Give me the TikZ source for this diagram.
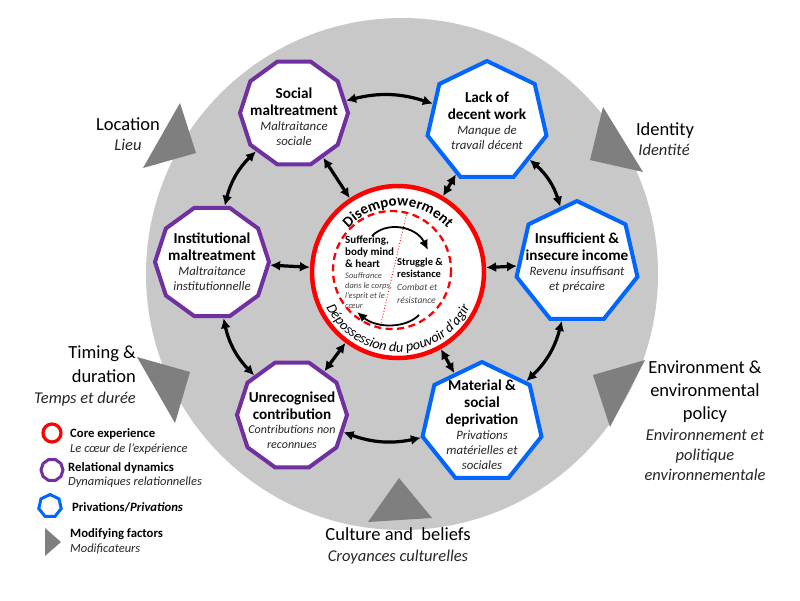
\documentclass[tikz,border=0pt]{standalone}
\usepackage{fontspec}
\setmainfont{Carlito}
\usetikzlibrary{shapes.geometric,arrows.meta,decorations.text,calc}
\definecolor{purp}{HTML}{7030A0}
\definecolor{blu}{HTML}{0066FF}
\definecolor{redc}{HTML}{FF0000}
\definecolor{bgc}{HTML}{C8C8C8}
\definecolor{trig}{HTML}{7F7F7F}
\definecolor{frtx}{HTML}{262626}
\definecolor{coretx}{HTML}{444444}
\newcommand{\nbf}{\bfseries\fontsize{15.2}{17}\selectfont}
\newcommand{\nit}{\mdseries\itshape\color{frtx}\fontsize{12.8}{15}\selectfont}
\begin{document}
\begin{tikzpicture}[x=1pt,y=-1pt,
  rel/.style={regular polygon, regular polygon sides=10, draw=purp, line width=4pt, fill=white, inner sep=0pt},
  priv/.style={regular polygon, regular polygon sides=7, draw=blu, line width=4pt, fill=white, inner sep=0pt},
  lab/.style={text width=125pt, align=center, inner sep=0pt},
  dbl/.style={line width=3.2pt, {Latex[length=10pt,width=10pt]}-{Latex[length=10pt,width=10pt]}},
  inarr/.style={line width=1.8pt, -{Latex[length=10pt,width=9pt]}},
  modtri/.style={fill=trig},
  cb/.style={anchor=base west, inner sep=0pt, font=\bfseries\fontsize{11}{12}\selectfont},
  ci/.style={anchor=base west, inner sep=0pt, text=coretx, font=\itshape\fontsize{8.5}{10}\selectfont},
  lo/.style={anchor=base, inner sep=0pt, font=\fontsize{18.5}{22}\selectfont},
  lf/.style={anchor=base, inner sep=0pt, text=frtx, font=\itshape\fontsize{16.5}{20}\selectfont},
  lgb/.style={anchor=base west, inner sep=0pt, font=\bfseries\fontsize{12.7}{14}\selectfont},
  lgi/.style={anchor=base west, inner sep=0pt, text=frtx, font=\itshape\fontsize{12.5}{14}\selectfont},
]
\useasboundingbox (0,0) rectangle (800,600);
\fill[white] (0,0) rectangle (800,600);

% big grey disc
\fill[bgc] (402,274) circle[radius=256];

% modifying factor triangles
\fill[modtri] (180,103) -- (196,153) -- (143,168) -- cycle;
\fill[modtri] (603,107) -- (643,172) -- (590,160) -- cycle;
\fill[modtri] (137,357) -- (190,372) -- (175,423) -- cycle;
\fill[modtri] (645,360) -- (593,375) -- (610,427) -- cycle;
\fill[modtri] (399,478) -- (432,518) -- (368,522) -- cycle;

% core
\node[circle, draw=redc, line width=4.5pt, fill=white, minimum size=172pt, inner sep=0pt] (core) at (398,272) {};
\coordinate (dc) at (392,270);
\draw[redc, line width=2.3pt, dash pattern=on 7pt off 4.5pt] (dc) circle[radius=59];
\coordinate (d1) at (407,212);
\coordinate (d2) at (380,328);
\draw[redc, line width=0.9pt, dotted] (d1) -- (d2);

\path[decorate, decoration={text along path, text align=center,
  text={|\bfseries\fontsize{15}{15}\selectfont|Disempowerment}}]
  ($(core.center)+(200:66)$) arc[start angle=200, end angle=340, radius=66];
\path[decorate, decoration={text along path, text align=center,
  text={|\itshape\fontsize{14.2}{14.2}\selectfont|Dépossession du pouvoir d’agir}}]
  ($(core.center)+(168:80)$) arc[start angle=168, end angle=12, radius=80];

% core inner texts
\node[cb] (s1) at (345,243) {Suffering,};
\node[cb] (s2) at (345,255) {body mind};
\node[cb] (s3) at (345,267) {\& heart};
\node[ci] (s4) at (345,278) {Souffrance};
\node[ci] (s5) at (345,288) {dans le corps,};
\node[ci] (s6) at (345,298) {l’esprit et le};
\node[ci] (s7) at (345,308) {cœur};
\node[cb, font=\bfseries\fontsize{10.5}{12}\selectfont] (r1) at (397,265) {Struggle \&};
\node[cb, font=\bfseries\fontsize{10.5}{12}\selectfont] (r2) at (397,277) {resistance};
\node[ci, font=\itshape\fontsize{9.5}{11}\selectfont] (r3) at (397,290) {Combat et};
\node[ci, font=\itshape\fontsize{9.5}{11}\selectfont] (r4) at (397,303) {résistance};

% inner cycle arrows
\coordinate (ta1) at (372,236);
\coordinate (ta2) at (428,250);
\draw[inarr] (ta1) .. controls (386,221) and (416,226) .. (ta2);
\coordinate (ba1) at (419,315);
\coordinate (ba2) at (357,312);
\draw[inarr] (ba1) .. controls (405,329) and (376,328) .. (ba2);

% outer nodes
\node[rel, minimum size=108pt] (soc) at (294,113) {};
\node[rel, minimum size=114pt] (inst) at (212,262) {};
\node[rel, minimum size=110pt] (unrec) at (292,415) {};
\node[priv, minimum size=122pt] (lack) at (487,122) {};
\node[priv, minimum size=124pt] (inc) at (577,263) {};
\node[priv, minimum size=122pt] (mat) at (482,423) {};

\node[lab] (socT) at (294,117) {\nbf Social\\maltreatment\par
  \nit Maltraitance\\sociale\par};
\node[lab] (instT) at (212,262) {\nbf Institutional\\maltreatment\par
  \nit Maltraitance\\institutionnelle\par};
\node[lab] (unrecT) at (292,420) {\nbf Unrecognised\\contribution\par
  \nit\fontsize{12}{14.5}\selectfont Contributions non\\reconnues\par};
\node[lab] (lackT) at (487,121) {\nbf Lack of\\decent work\par
  \nit Manque de\\travail décent\par};
\node[lab] (incT) at (577,263) {\nbf Insufficient \&\\insecure income\par
  \nit Revenu insuffisant\\et précaire\par};
\node[lab] (matT) at (482,425) {\nbf Material \&\\social\\deprivation\par
  \nit Privations\\matérielles et\\sociales\par};

% ring arrows
\draw[dbl] (soc) to[bend left=16] (lack);
\draw[dbl] (lack) to[bend left=16] (inc);
\draw[dbl] (inc) to[bend left=16] (mat);
\draw[dbl] (mat) to[bend left=16] (unrec);
\draw[dbl] (unrec) to[bend left=16] (inst);
\draw[dbl] (inst) to[bend left=16] (soc);

% radial arrows
\draw[dbl] (soc) -- (core);
\draw[dbl] (lack) -- (core);
\draw[dbl] (inst) -- (core);
\draw[dbl] (inc) -- (core);
\draw[dbl] (unrec) -- (core);
\draw[dbl] (mat) -- (core);

% modifying factor labels
\node[lo] (loc1) at (128,130) {Location};
\node[lf] (loc2) at (128,150) {Lieu};
\node[lo] (id1) at (665,135) {Identity};
\node[lf] (id2) at (664,155) {Identité};
\node[lo, anchor=base east] (tm1) at (136,358) {Timing \&};
\node[lo, anchor=base east] (tm2) at (136,382) {duration};
\node[lf, anchor=base east] (tm3) at (136,403) {Temps et durée};
\node[lo] (en1) at (705,373) {Environment \&};
\node[lo] (en2) at (705,396) {environmental};
\node[lo] (en3) at (705,419) {policy};
\node[lf] (en4) at (705,440) {Environnement et};
\node[lf] (en5) at (705,460) {politique};
\node[lf] (en6) at (705,480) {environnementale};
\node[lo] (cu1) at (398,540) {Culture and\ \ beliefs};
\node[lf] (cu2) at (398,561) {Croyances culturelles};

% legend
\node[circle, draw=redc, line width=3.2pt, minimum size=18pt, inner sep=0pt] (lg1) at (52,433) {};
\node[regular polygon, regular polygon sides=10, draw=purp, line width=3pt, minimum size=22pt, inner sep=0pt] (lg2) at (52,470) {};
\node[regular polygon, regular polygon sides=7, draw=blu, line width=3pt, minimum size=23pt, inner sep=0pt] (lg3) at (50,506) {};
\fill[modtri] (45,528) -- (61,542) -- (45,556) -- cycle;
\node[lgb] (lt1) at (70,437) {Core experience};
\node[lgi] (lt2) at (70,452) {Le cœur de l’expérience};
\node[lgb] (lt3) at (68,471) {Relational dynamics};
\node[lgi] (lt4) at (68,485) {Dynamiques relationnelles};
\node[lgb] (lt5) at (72,511) {Privations/\textit{Privations}};
\node[lgb] (lt6) at (70,537) {Modifying factors};
\node[lgi] (lt7) at (70,552) {Modificateurs};
\end{tikzpicture}
\end{document}
